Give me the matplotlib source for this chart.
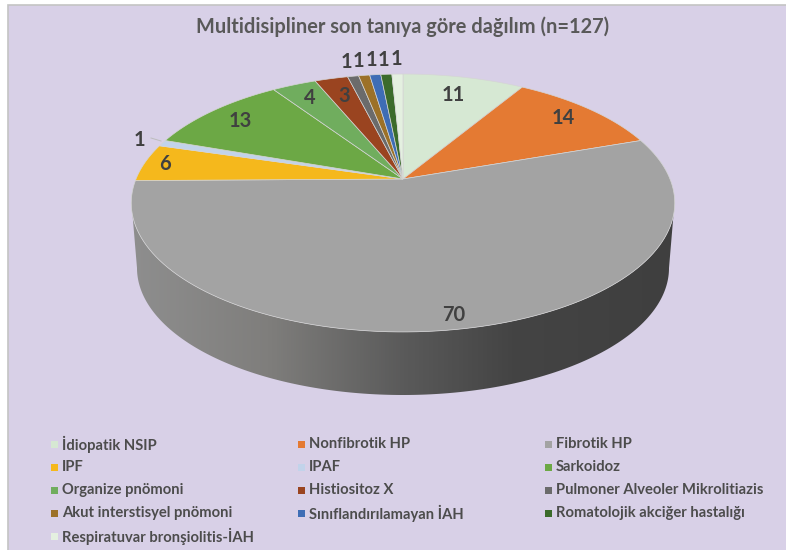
# plot.py
# Multidisciplinary diagnosis distribution, 3D-looking pie (Excel style)

import numpy as np
import matplotlib
matplotlib.use('Agg')
import matplotlib.pyplot as plt
from matplotlib.colors import LinearSegmentedColormap
from matplotlib.patches import Polygon, Rectangle

plt.rcParams['font.family'] = ['Lato', 'DejaVu Sans']

title = 'Multidisipliner son tanıya göre dağılım (n=127)'
categories = ['İdiopatik NSIP', 'Nonfibrotik HP', 'Fibrotik HP', 'IPF', 'IPAF',
              'Sarkoidoz', 'Organize pnömoni', 'Histiositoz X',
              'Pulmoner Alveoler Mikrolitiazis', 'Akut interstisyel pnömoni',
              'Sınıflandırılamayan İAH', 'Romatolojik akciğer hastalığı',
              'Respiratuvar bronşiolitis-İAH']
values = [11, 14, 70, 6, 1, 13, 4, 3, 1, 1, 1, 1, 1]
colors = ['#D6E8D3', '#E47A33', '#A3A3A3', '#F5B81C', '#C2D3EA', '#6CA845',
          '#70AD5E', '#9A4420', '#6B6B6B', '#9C7128', '#3E6DB5', '#3B6B2B',
          '#E4F0E0']
# how far out each number sits, as a fraction of the radius
label_radius = [0.80, 0.85, 0.92, 0.92, 1.10, 0.84, 0.84, 0.80,
                1.17, 1.17, 1.17, 1.17, 1.17]

BG = '#D8D0E7'
TEXT = '#4C4C4C'
LABEL = '#404040'

# pie geometry in image pixels, the top face is a circle seen in perspective
CX, CY = 403, 179
RX, RY = 267, 124.5
K = 0.186


def project(angle, r=1.0):
    # angle in degrees, clockwise from 12 o'clock
    u = r * np.sin(np.radians(angle))
    v = r * np.cos(np.radians(angle))
    w = 1 + K * v
    return CX + RX * u / w, CY - RY * v / w


fig = plt.figure(figsize=(7.86, 5.5), dpi=100)
ax = fig.add_axes([0, 0, 1, 1])
ax.set_xlim(0, 786)
ax.set_ylim(550, 0)
ax.axis('off')

# background panel
ax.add_patch(Rectangle((8, 5), 790, 560, fc=BG, ec='#C4C4C4', lw=1.2, zorder=0))

# side wall
a = np.linspace(90, 270, 200)
top_x, top_y = project(a)
keep = top_y >= 214
low = np.radians(np.linspace(0, 180, 200))
bot_x = 403 + 266 * np.cos(low)
bot_y = 268 + 127 * np.sin(low)
wall_pts = np.vstack([np.column_stack([top_x[keep], top_y[keep]])[::-1],
                      np.column_stack([bot_x[::-1], bot_y[::-1]])[::-1]])
wall = Polygon(wall_pts, closed=True, fc='none', ec='none', zorder=1)
ax.add_patch(wall)
shade = LinearSegmentedColormap.from_list('wall', [
    (0.00, '#8E8E8E'), (0.25, '#7F7E7C'), (0.50, '#5A5A5A'),
    (0.70, '#444444'), (1.00, '#3F3F3F')])
img = ax.imshow(np.linspace(0, 1, 540).reshape(1, -1), cmap=shade, aspect='auto',
                extent=(132, 676, 400, 200), zorder=1)
img.set_clip_path(wall)
ax.set_xlim(0, 786)
ax.set_ylim(550, 0)

# slices of the top face
edges = np.concatenate([[0], np.cumsum(values)]) / sum(values) * 360
for i in range(len(values)):
    arc = np.linspace(edges[i], edges[i + 1], 120)
    xs, ys = project(arc)
    pts = np.vstack([[CX, CY], np.column_stack([xs, ys])])
    ax.add_patch(Polygon(pts, closed=True, fc=colors[i], ec='#D5D5D5',
                         lw=0.5, zorder=2))

# value labels
for i, val in enumerate(values):
    lx, ly = project((edges[i] + edges[i + 1]) / 2, label_radius[i])
    ax.text(lx, ly, str(val), ha='center', va='center', fontsize=14.5,
            fontweight='bold', color=LABEL, zorder=4)

# small leader for the IPAF label
ax.plot([151, 161], [138, 141], color='#BDBDBD', lw=0.7, zorder=3)

ax.text(403, 27, title, ha='center', va='center', fontsize=14.4,
        fontweight='bold', color='#595959')

# legend, 3 columns filled row by row
col_x = [54, 301, 548]
for i, name in enumerate(categories):
    col, row = i % 3, i // 3
    y = 444 + row * 23
    ax.add_patch(Rectangle((col_x[col] - 3.5, y - 3.5), 7.5, 7.5, fc=colors[i],
                           ec='none', zorder=3))
    ax.text(col_x[col] + 8, y, name, ha='left', va='center', fontsize=10.65,
            fontweight='bold', color=TEXT)

plt.savefig('out.png', dpi=100)
